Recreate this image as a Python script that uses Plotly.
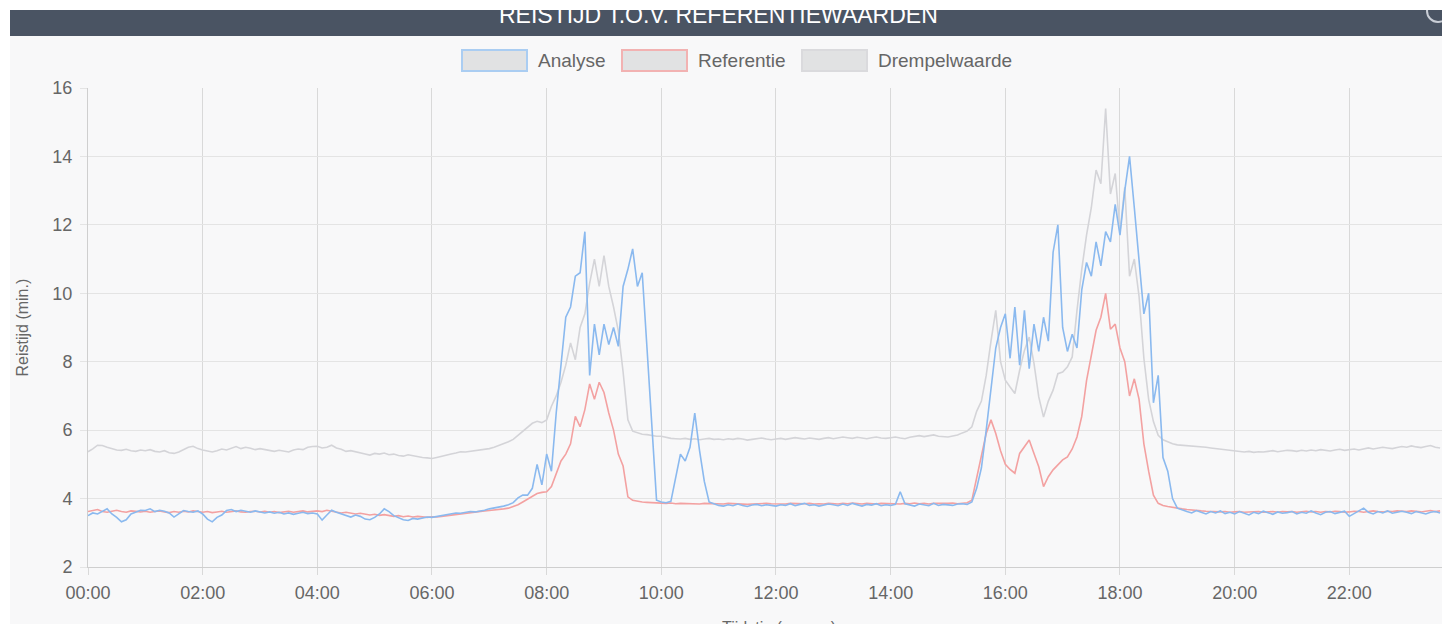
import pandas as pd
import plotly.graph_objects as go

# ---------------- data (5-minute samples, 00:00 .. 23:35) ----------------
analyse = [
    3.50, 3.58, 3.55, 3.62, 3.70, 3.55, 3.45, 3.32, 3.38, 3.55, 3.60, 3.66,
    3.65, 3.70, 3.62, 3.66, 3.63, 3.58, 3.46, 3.55, 3.65, 3.62, 3.60, 3.64,
    3.55, 3.40, 3.32, 3.45, 3.52, 3.65, 3.68, 3.62, 3.66, 3.63, 3.60, 3.64,
    3.62, 3.58, 3.61, 3.57, 3.60, 3.55, 3.58, 3.54, 3.57, 3.60, 3.56, 3.58,
    3.55, 3.37, 3.52, 3.66, 3.60, 3.55, 3.50, 3.46, 3.52, 3.48, 3.40, 3.38,
    3.45, 3.55, 3.70, 3.62, 3.50, 3.45, 3.38, 3.36, 3.42, 3.40, 3.44, 3.46,
    3.45, 3.48, 3.50, 3.52, 3.55, 3.58, 3.57, 3.60, 3.62, 3.61, 3.63, 3.66,
    3.70, 3.72, 3.75, 3.78, 3.82, 3.88, 4.02, 4.10, 4.10, 4.30, 5.00, 4.40,
    5.30, 4.80, 6.50, 7.90, 9.30, 9.60, 10.50, 10.60, 11.80, 7.60, 9.10, 8.20,
    9.10, 8.50, 9.00, 8.45, 10.20, 10.70, 11.30, 10.20, 10.60, 8.40, 6.20, 3.95,
    3.90, 3.88, 3.92, 4.60, 5.30, 5.10, 5.50, 6.50, 5.40, 4.50, 3.90, 3.85,
    3.80, 3.78, 3.82, 3.79, 3.84, 3.80, 3.77, 3.81, 3.83, 3.79, 3.82, 3.80,
    3.78, 3.82, 3.80, 3.85, 3.79, 3.83, 3.86, 3.80, 3.82, 3.78, 3.81, 3.84,
    3.82, 3.79, 3.84, 3.80, 3.86, 3.82, 3.78, 3.83, 3.81, 3.85, 3.79, 3.82,
    3.80, 3.83, 4.20, 3.85, 3.81, 3.78, 3.84, 3.82, 3.79, 3.86, 3.80, 3.83,
    3.82, 3.80, 3.84, 3.85, 3.83, 3.90, 4.30, 4.90, 6.00, 7.20, 8.40, 9.00,
    9.40, 8.10, 9.60, 7.90, 9.50, 7.80, 9.10, 8.30, 9.30, 8.60, 11.20, 12.00,
    9.00, 8.30, 8.80, 8.40, 10.10, 10.90, 10.50, 11.50, 10.80, 11.80, 11.50, 12.60,
    11.70, 13.00, 14.00, 12.50, 11.00, 9.40, 10.00, 6.80, 7.60, 5.20, 4.80, 4.00,
    3.72, 3.66, 3.62, 3.58, 3.65, 3.60, 3.55, 3.62, 3.58, 3.64, 3.56, 3.60,
    3.55, 3.62, 3.57, 3.52, 3.60, 3.56, 3.63, 3.58, 3.54, 3.61, 3.57, 3.59,
    3.62, 3.55, 3.60, 3.57, 3.64, 3.58, 3.53, 3.60, 3.62, 3.56, 3.59, 3.63,
    3.48, 3.56, 3.66, 3.72, 3.60, 3.55, 3.62, 3.58, 3.64, 3.57, 3.60, 3.63,
    3.60, 3.56, 3.62, 3.58, 3.55, 3.60, 3.62, 3.58,
]

referentie = [
    3.62, 3.64, 3.68, 3.62, 3.60, 3.63, 3.66, 3.62, 3.60, 3.64, 3.62, 3.61,
    3.63, 3.60, 3.62, 3.64, 3.61, 3.59, 3.62, 3.60, 3.63, 3.61, 3.64, 3.62,
    3.60, 3.62, 3.59, 3.61, 3.63, 3.60, 3.62, 3.64, 3.61, 3.60, 3.62, 3.63,
    3.61, 3.63, 3.60, 3.62, 3.59, 3.61, 3.63, 3.60, 3.62, 3.64, 3.61, 3.62,
    3.64, 3.62, 3.66, 3.63, 3.61, 3.58, 3.60, 3.57, 3.55, 3.57, 3.54, 3.52,
    3.54, 3.51, 3.53, 3.50, 3.48, 3.50, 3.47, 3.49, 3.46, 3.48, 3.47, 3.45,
    3.47, 3.46, 3.48, 3.50, 3.52, 3.54, 3.55, 3.57, 3.58, 3.60, 3.62, 3.64,
    3.65, 3.66, 3.68, 3.70, 3.72, 3.76, 3.82, 3.90, 3.98, 4.08, 4.15, 4.18,
    4.20, 4.35, 4.70, 5.10, 5.30, 5.60, 6.40, 6.10, 6.60, 7.35, 6.90, 7.40,
    7.10, 6.50, 6.00, 5.30, 4.95, 4.05, 3.95, 3.92, 3.90, 3.89, 3.88, 3.88,
    3.87, 3.86, 3.87, 3.85, 3.86, 3.85, 3.86, 3.85, 3.84, 3.86, 3.85, 3.84,
    3.85, 3.84, 3.86, 3.85, 3.84, 3.85, 3.83, 3.84, 3.85, 3.84, 3.86, 3.85,
    3.84, 3.85, 3.84, 3.86, 3.85, 3.84, 3.85, 3.86, 3.84, 3.85, 3.84, 3.86,
    3.85, 3.84, 3.86, 3.85, 3.87, 3.85, 3.84, 3.86, 3.85, 3.84, 3.86, 3.85,
    3.86, 3.85, 3.84, 3.86, 3.85, 3.87, 3.85, 3.86, 3.84, 3.86, 3.85, 3.86,
    3.86, 3.87, 3.85, 3.86, 3.88, 3.95, 4.60, 5.30, 5.90, 6.30, 5.90, 5.40,
    5.00, 4.85, 4.74, 5.32, 5.52, 5.71, 5.32, 4.93, 4.35, 4.64, 4.84, 5.00,
    5.13, 5.22, 5.45, 5.80, 6.40, 7.45, 8.24, 8.92, 9.30, 10.00, 8.95, 9.10,
    8.40, 8.00, 7.00, 7.50, 6.90, 5.60, 4.80, 4.10, 3.86, 3.80, 3.77, 3.74,
    3.72, 3.70, 3.68, 3.66, 3.65, 3.64, 3.63, 3.62, 3.63, 3.61, 3.62, 3.60,
    3.61, 3.62, 3.60, 3.61, 3.63, 3.62, 3.60, 3.61, 3.62, 3.60, 3.62, 3.61,
    3.62, 3.60, 3.61, 3.63, 3.61, 3.62, 3.60, 3.62, 3.61, 3.63, 3.62, 3.60,
    3.61, 3.63, 3.62, 3.60, 3.62, 3.64, 3.62, 3.61, 3.63, 3.62, 3.64, 3.63,
    3.62, 3.64, 3.63, 3.61, 3.63, 3.65, 3.62, 3.64,
]

drempelwaarde = [
    5.37, 5.45, 5.56, 5.55, 5.50, 5.45, 5.42, 5.41, 5.44, 5.40, 5.38, 5.42,
    5.40, 5.43, 5.38, 5.36, 5.40, 5.34, 5.32, 5.36, 5.42, 5.50, 5.53, 5.46,
    5.42, 5.38, 5.36, 5.40, 5.45, 5.42, 5.48, 5.52, 5.46, 5.50, 5.47, 5.43,
    5.46, 5.44, 5.40, 5.38, 5.41, 5.39, 5.36, 5.42, 5.45, 5.43, 5.50, 5.52,
    5.53, 5.48, 5.50, 5.56, 5.48, 5.44, 5.38, 5.40, 5.36, 5.33, 5.30, 5.27,
    5.32, 5.30, 5.33, 5.28, 5.30, 5.26, 5.24, 5.28, 5.25, 5.22, 5.20, 5.19,
    5.17, 5.20, 5.24, 5.27, 5.30, 5.33, 5.37, 5.36, 5.38, 5.40, 5.42, 5.43,
    5.46, 5.50, 5.55, 5.60, 5.66, 5.73, 5.85, 5.98, 6.10, 6.20, 6.26, 6.22,
    6.30, 6.70, 7.00, 7.40, 7.90, 8.55, 8.06, 9.00, 9.40, 10.30, 11.00, 10.20,
    11.10, 10.20, 9.60, 8.90, 7.70, 6.30, 5.97, 5.92, 5.88, 5.87, 5.84, 5.82,
    5.82, 5.78, 5.76, 5.75, 5.74, 5.76, 5.73, 5.75, 5.72, 5.74, 5.76, 5.73,
    5.74, 5.72, 5.75, 5.73, 5.76, 5.74, 5.71, 5.73, 5.75, 5.77, 5.74, 5.72,
    5.74, 5.76, 5.73, 5.75, 5.78, 5.76, 5.74, 5.77, 5.75, 5.73, 5.76, 5.78,
    5.75, 5.77, 5.80, 5.78, 5.76, 5.79, 5.77, 5.75, 5.78, 5.80, 5.77, 5.76,
    5.78, 5.80, 5.77, 5.75, 5.79, 5.82, 5.84, 5.81, 5.83, 5.86, 5.82, 5.80,
    5.80, 5.83, 5.86, 5.92, 5.97, 6.10, 6.55, 6.85, 7.60, 8.60, 9.50, 8.00,
    7.46, 7.26, 7.07, 7.75, 8.33, 8.72, 7.95, 6.97, 6.38, 6.85, 7.17, 7.65,
    7.70, 7.85, 8.14, 9.50, 10.70, 11.70, 12.50, 13.60, 13.20, 15.40, 12.90, 13.50,
    11.80, 13.10, 10.50, 11.00, 9.90, 8.10, 6.90, 6.25, 5.85, 5.72, 5.66, 5.60,
    5.57, 5.56, 5.54, 5.55, 5.53, 5.52, 5.50, 5.48, 5.46, 5.45, 5.43, 5.42,
    5.40, 5.38, 5.36, 5.38, 5.35, 5.37, 5.36, 5.38, 5.40, 5.37, 5.39, 5.41,
    5.40, 5.38, 5.41, 5.39, 5.42, 5.40, 5.43, 5.41, 5.39, 5.42, 5.44, 5.41,
    5.43, 5.45, 5.42, 5.46, 5.48, 5.45, 5.47, 5.50, 5.48, 5.46, 5.49, 5.52,
    5.50, 5.54, 5.51, 5.49, 5.52, 5.55, 5.50, 5.48,
]

series_names = ["Analyse", "Referentie", "Drempelwaarde"]
title_text = "REISTIJD T.O.V. REFERENTIEWAARDEN"
y_title = "Reistijd (min.)"
x_title = "Tijdstip (uu:mm)"

times = pd.date_range("2024-01-01 00:00", periods=len(analyse), freq="5min")

# ---------------- styling ----------------
W, H = 1442, 624
L, R, T, B = 88, 1442, 88, 567       # plot area in pixels
FONT = "Liberation Sans, Arial, sans-serif"
TXT = "#666666"
BG = "#f8f8f9"
line_cols = {"Analyse": "#8ab9ef", "Referentie": "#f3a1a1", "Drempelwaarde": "#d4d4d8"}
box_border = {"Analyse": "#aacdf2", "Referentie": "#f2b2b2", "Drempelwaarde": "#dadadd"}


def px(x):
    """pixel x -> paper coordinate"""
    return (x - L) / (R - L)


def py(y):
    """pixel y -> paper coordinate"""
    return (B - y) / (B - T)


fig = go.Figure()
for name, vals in [("Drempelwaarde", drempelwaarde), ("Referentie", referentie), ("Analyse", analyse)]:
    fig.add_trace(go.Scatter(x=times, y=vals, mode="lines", name=name,
                             line=dict(color=line_cols[name], width=1.6),
                             showlegend=False))

shapes = []
# dark header bar
shapes.append(dict(type="rect", xref="paper", yref="paper", x0=px(10), x1=px(1460),
                   y0=py(36), y1=py(10), fillcolor="#4a5463", line=dict(width=0), layer="below"))
# circle icon (partly hidden)
shapes.append(dict(type="circle", xref="paper", yref="paper", x0=px(1427), x1=px(1449),
                   y0=py(22), y1=py(0), line=dict(color="#c9ced6", width=2), fillcolor="rgba(0,0,0,0)"))
# white strips (top and left)
shapes.append(dict(type="rect", xref="paper", yref="paper", x0=px(-5), x1=px(1460),
                   y0=py(10), y1=py(-5), fillcolor="#ffffff", line=dict(width=0)))
shapes.append(dict(type="rect", xref="paper", yref="paper", x0=px(-5), x1=px(10),
                   y0=py(640), y1=py(-5), fillcolor="#ffffff", line=dict(width=0)))

annotations = [
    dict(text=title_text, xref="paper", yref="paper", x=px(718), y=py(15),
         xanchor="center", yanchor="middle", showarrow=False,
         font=dict(family=FONT, size=23, color="#ffffff")),
    dict(text=y_title, xref="paper", yref="paper", x=px(22), y=0.5, textangle=-90,
         xanchor="center", yanchor="middle", showarrow=False,
         font=dict(family=FONT, size=16, color=TXT)),
    dict(text=x_title, xref="paper", yref="paper", x=px(779), y=py(617),
         xanchor="center", yanchor="top", showarrow=False,
         font=dict(family=FONT, size=16, color=TXT)),
]

# custom legend (box-style like the original)
legend_pos = {"Analyse": 462, "Referentie": 622, "Drempelwaarde": 802}
for name in series_names:
    x0 = legend_pos[name]
    shapes.append(dict(type="rect", xref="paper", yref="paper", x0=px(x0), x1=px(x0 + 65),
                       y0=py(71), y1=py(50), fillcolor="#e1e2e3",
                       line=dict(color=box_border[name], width=2)))
    annotations.append(dict(text=name, xref="paper", yref="paper", x=px(x0 + 74), y=py(60),
                            xanchor="left", yanchor="middle", showarrow=False,
                            font=dict(family=FONT, size=19, color=TXT)))

fig.update_layout(
    width=W, height=H,
    margin=dict(l=L, r=W - R, t=T, b=H - B, autoexpand=False),
    paper_bgcolor=BG, plot_bgcolor=BG,
    showlegend=False,
    shapes=shapes, annotations=annotations,
    xaxis=dict(type="date", range=["2024-01-01 00:00", "2024-01-01 23:37"],
               tick0="2024-01-01 00:00", dtick=7200000, tickformat="%H:%M",
               showgrid=True, gridcolor="#d9d9d9", gridwidth=1,
               ticks="outside", ticklen=7, tickcolor="#d9d9d9",
               ticklabelstandoff=2,
               showline=True, linecolor="#cfcfcf", linewidth=1,
               zeroline=False, fixedrange=True,
               tickfont=dict(family=FONT, size=18, color=TXT)),
    yaxis=dict(range=[2, 16], tick0=2, dtick=2,
               showgrid=True, gridcolor="#e4e4e4", gridwidth=1,
               ticks="outside", ticklen=7, tickcolor="#e4e4e4",
               ticklabelstandoff=4,
               showline=True, linecolor="#cfcfcf", linewidth=1,
               zeroline=False, fixedrange=True,
               tickfont=dict(family=FONT, size=18, color=TXT)),
)

fig.write_html(
    "out.html",
    config={"displayModeBar": False},
    post_script="document.body.style.margin='0';document.body.style.overflow='hidden';"
                "document.documentElement.style.overflow='hidden';",
)
